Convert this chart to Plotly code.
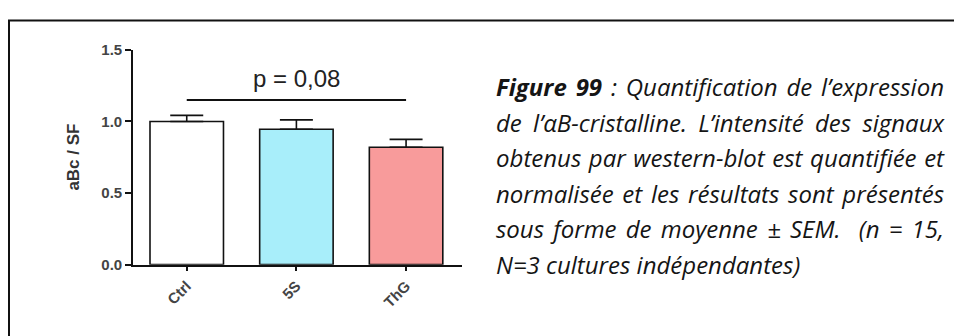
import plotly.graph_objects as go

# Data: normalised alphaB-crystallin expression (mean + SEM)
groups = ["Ctrl", "5S", "ThG"]
means = [1.00, 0.945, 0.82]
sem = [0.042, 0.066, 0.055]
bar_colors = ["#ffffff", "#a8eefa", "#f89b9b"]
y_ticks = [0.0, 0.5, 1.0, 1.5]
p_label = "p = 0,08"
sig_level = 1.15

caption_lines = [
    "<b>Figure 99</b> : Quantification de l’expression",
    "de l’αB-cristalline. L’intensité des signaux",
    "obtenus par western-blot est quantifiée et",
    "normalisée et les résultats sont présentés",
    "sous forme de moyenne ± SEM.  (n = 15,",
    "N=3 cultures indépendantes)",
]

W, H = 954, 336
CAPTION_LEFT, CAPTION_RIGHT = 494, 942


def px_x(x):
    return x / W


def px_y(y):
    return 1 - y / H


fig = go.Figure()
fig.add_trace(go.Bar(
    x=groups,
    y=means,
    width=0.67,
    marker=dict(color=bar_colors, line=dict(color="#111111", width=1.6)),
    error_y=dict(type="data", symmetric=False, array=sem,
                 arrayminus=[0] * len(sem), color="#111111",
                 thickness=1.6, width=16.5),
    showlegend=False,
))

# significance bar spanning Ctrl to ThG
fig.add_shape(type="line", xref="x", yref="y", x0=0, x1=2,
              y0=sig_level, y1=sig_level,
              line=dict(color="#111111", width=2))
fig.add_annotation(x=1, y=1.30, xref="x", yref="y", text=p_label,
                   showarrow=False,
                   font=dict(family="Liberation Sans, Arial", size=24, color="#222222"))

# y-axis title
fig.add_annotation(x=px_x(62), y=px_y(156), xref="paper", yref="paper",
                   text="<b>aBc / SF</b>", textangle=-90, showarrow=False,
                   font=dict(family="Liberation Sans, Arial", size=17, color="#333333"))

# outer frame
fig.add_shape(type="rect", xref="paper", yref="paper",
              x0=px_x(9), x1=1.05, y0=-0.05, y1=px_y(12),
              line=dict(color="#111111", width=2))

# caption
first_caption = len(fig.layout.annotations)
for i, line in enumerate(caption_lines):
    fig.add_annotation(x=px_x(CAPTION_LEFT), y=px_y(82 + 37.4 * i), xref="paper", yref="paper",
                       text="<i>" + line + "</i>", showarrow=False,
                       xanchor="left", yanchor="middle", align="left",
                       font=dict(family="Open Sans", size=24, color="#151515"))

fig.update_layout(
    width=W, height=H,
    margin=dict(l=0, r=0, t=0, b=0),
    paper_bgcolor="white", plot_bgcolor="white",
    xaxis=dict(
        domain=[px_x(133), px_x(462)],
        range=[-0.49, 2.51],
        showline=True, linecolor="#111111", linewidth=1.6,
        ticks="outside", ticklen=5, tickwidth=1.6, tickcolor="#111111",
        tickangle=-45,
        tickfont=dict(family="Liberation Sans, Arial", size=15, color="#444444", weight="bold"),
        showgrid=False, zeroline=False, fixedrange=True,
    ),
    yaxis=dict(
        domain=[px_y(269.3), px_y(43)],
        range=[0, 1.5],
        tickvals=y_ticks, tickformat=".1f",
        showline=True, linecolor="#111111", linewidth=1.6,
        ticks="outside", ticklen=6, tickwidth=1.6, tickcolor="#111111",
        tickfont=dict(family="Liberation Sans, Arial", size=15, color="#444444", weight="bold"),
        showgrid=False, zeroline=False, fixedrange=True,
    ),
)

# justify every caption line except the last one by widening word spacing
justify_js = """
var gd = document.getElementById('{plot_id}');
var first = %d, count = %d, target = %d;
for (var i = first; i < first + count - 1; i++) {
  var g = gd.querySelector('g.annotation[data-index="' + i + '"] text.annotation-text');
  if (!g) continue;
  var len = g.getComputedTextLength();
  var spaces = (g.textContent.match(/ /g) || []).length;
  if (spaces > 0 && len < target) {
    g.style.wordSpacing = ((target - len) / spaces) + 'px';
  }
}
""" % (first_caption, len(caption_lines), CAPTION_RIGHT - CAPTION_LEFT)

fig.write_html("out.html", post_script=justify_js)
